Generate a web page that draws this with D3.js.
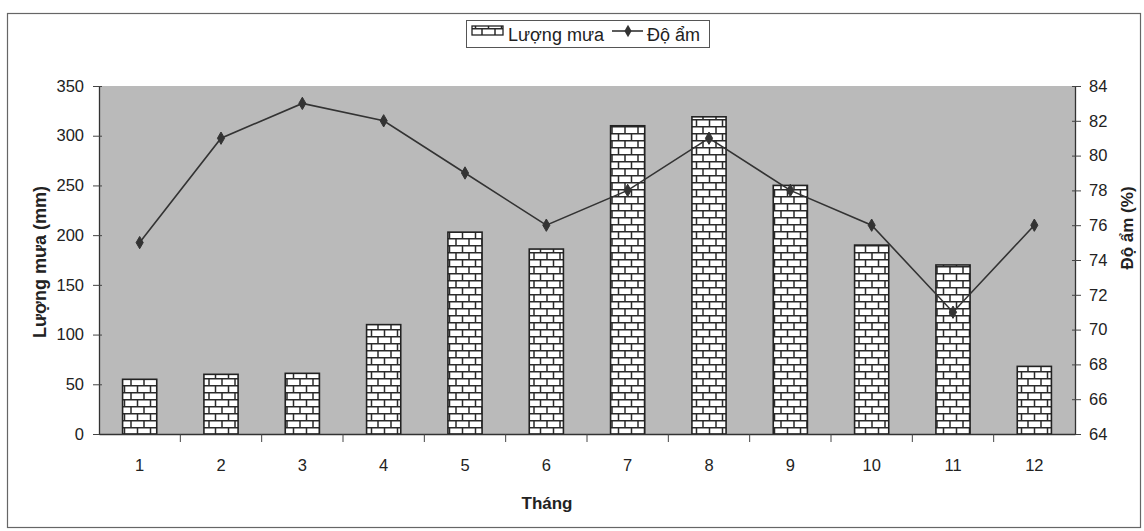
<!DOCTYPE html>
<html>
<head>
<meta charset="utf-8">
<script src="https://cdn.jsdelivr.net/npm/d3@7/dist/d3.min.js"></script>
<style>
  html, body { margin: 0; padding: 0; background: #fff; }
  svg { display: block; font-family: "Liberation Sans", Arial, sans-serif; }
</style>
</head>
<body>
<svg id="chart" width="1144" height="531"></svg>
<script>
// Monthly rainfall (mm) and relative humidity (%)
const months = ["1", "2", "3", "4", "5", "6", "7", "8", "9", "10", "11", "12"];
const rainfall = [55, 60, 61, 110, 203, 186, 310, 319, 250, 190, 170, 68];
const humidity = [75, 81, 83, 82, 79, 76, 78, 81, 78, 76, 71, 76];
const rainTicks = [0, 50, 100, 150, 200, 250, 300, 350];
const humidityTicks = [64, 66, 68, 70, 72, 74, 76, 78, 80, 82, 84];

const font = "'Liberation Sans', Arial, sans-serif";

const svg = d3.select("#chart");
const plot = { left: 99, right: 1075, top: 86, bottom: 434 };

const x = d3.scaleBand().domain(months).range([plot.left, plot.right]).padding(0);
const yRain = d3.scaleLinear().domain([0, 350]).range([plot.bottom, plot.top]);
const yHum = d3.scaleLinear().domain([64, 84]).range([plot.bottom, plot.top]);

// Brick hatch used for the rainfall bars
const defs = svg.append("defs");
const brick = defs.append("pattern")
  .attr("id", "brick")
  .attr("patternUnits", "userSpaceOnUse")
  .attr("width", 13).attr("height", 14);
brick.append("rect").attr("width", 13).attr("height", 14).attr("fill", "#fff");
brick.append("path")
  .attr("d", "M0,0.7H13 M0,7.7H13 M1,0V7 M7.5,7V14")
  .attr("stroke", "#2a2a2a").attr("stroke-width", 1.5).attr("fill", "none");

// Outer frame
svg.append("rect")
  .attr("x", 7.5).attr("y", 13.5).attr("width", 1133).attr("height", 514)
  .attr("fill", "none").attr("stroke", "#666").attr("stroke-width", 1.2);

// Plot background
svg.append("rect")
  .attr("x", plot.left).attr("y", plot.top)
  .attr("width", plot.right - plot.left).attr("height", plot.bottom - plot.top)
  .attr("fill", "#bababa");

// Bars
const barW = x.bandwidth() * 0.42;
svg.append("g").selectAll("rect")
  .data(rainfall)
  .join("rect")
  .attr("x", (d, i) => x(months[i]) + (x.bandwidth() - barW) / 2)
  .attr("y", d => yRain(d))
  .attr("width", barW)
  .attr("height", d => yRain(0) - yRain(d))
  .attr("fill", "url(#brick)")
  .attr("stroke", "#222").attr("stroke-width", 1.6);

// Humidity line
const cx = i => x(months[i]) + x.bandwidth() / 2;
svg.append("path")
  .datum(humidity)
  .attr("d", d3.line().x((d, i) => cx(i)).y(d => yHum(d)))
  .attr("fill", "none").attr("stroke", "#333").attr("stroke-width", 1.6);

const diamond = d3.symbol().type(d3.symbolDiamond).size(44);
svg.append("g").selectAll("path")
  .data(humidity)
  .join("path")
  .attr("transform", (d, i) => `translate(${cx(i)},${yHum(d)})`)
  .attr("d", diamond)
  .attr("fill", "#333").attr("stroke", "#333");

// Axes
const styleAxis = g => {
  g.select(".domain").attr("stroke", "#333").attr("stroke-width", 1.3);
  g.selectAll(".tick line").attr("stroke", "#444");
  g.selectAll(".tick text").attr("fill", "#222").style("font-size", "16.5px")
    .style("font-family", font);
};

svg.append("g")
  .attr("transform", `translate(${plot.left},0)`)
  .call(d3.axisLeft(yRain).tickValues(rainTicks).tickSizeInner(6).tickSizeOuter(0).tickPadding(9))
  .call(styleAxis)
  .call(g => g.selectAll(".tick line").attr("x1", 3));

svg.append("g")
  .attr("transform", `translate(${plot.right},0)`)
  .call(d3.axisRight(yHum).tickValues(humidityTicks).tickSizeInner(6).tickSizeOuter(0).tickPadding(8))
  .call(styleAxis)
  .call(g => g.selectAll(".tick line").attr("x1", -3));

const xAxis = svg.append("g")
  .attr("transform", `translate(0,${plot.bottom})`)
  .call(d3.axisBottom(x).tickSize(0).tickPadding(25))
  .call(styleAxis);
// Tick marks sit on category boundaries
xAxis.selectAll(".boundary")
  .data(months.slice(1))
  .join("line")
  .attr("x1", d => x(d)).attr("x2", d => x(d))
  .attr("y1", 0).attr("y2", 8)
  .attr("stroke", "#444");

// Axis titles
svg.append("text")
  .attr("transform", `translate(46,${(plot.top + plot.bottom) / 2 + 2}) rotate(-90)`)
  .attr("text-anchor", "middle")
  .style("font-family", font)
  .style("font-size", "18px").style("font-weight", "bold").attr("fill", "#222")
  .text("Lượng mưa (mm)");

svg.append("text")
  .attr("transform", `translate(1133,${(plot.top + plot.bottom) / 2 - 32}) rotate(-90)`)
  .attr("text-anchor", "middle")
  .style("font-family", font)
  .style("font-size", "17px").style("font-weight", "bold").attr("fill", "#222")
  .text("Độ ẩm (%)");

svg.append("text")
  .attr("x", 547).attr("y", 509)
  .attr("text-anchor", "middle")
  .style("font-family", font)
  .style("font-size", "17px").style("font-weight", "bold").attr("fill", "#222")
  .text("Tháng");

// Legend
const legend = svg.append("g").style("font-family", font);
legend.append("rect")
  .attr("x", 466.5).attr("y", 20.5).attr("width", 243).attr("height", 27)
  .attr("fill", "#fff").attr("stroke", "#555");
legend.append("rect")
  .attr("x", 472).attr("y", 26).attr("width", 31).attr("height", 9)
  .attr("fill", "url(#brick)").attr("stroke", "#222").attr("stroke-width", 1.3);
legend.append("text")
  .attr("x", 508).attr("y", 41)
  .style("font-size", "18px").attr("fill", "#222")
  .text("Lượng mưa");
legend.append("line")
  .attr("x1", 612).attr("x2", 643).attr("y1", 31).attr("y2", 31)
  .attr("stroke", "#333").attr("stroke-width", 1.6);
legend.append("path")
  .attr("transform", "translate(628,31)")
  .attr("d", diamond).attr("fill", "#333");
legend.append("text")
  .attr("x", 647).attr("y", 41)
  .style("font-size", "18px").attr("fill", "#222")
  .text("Độ ẩm");
</script>
</body>
</html>
